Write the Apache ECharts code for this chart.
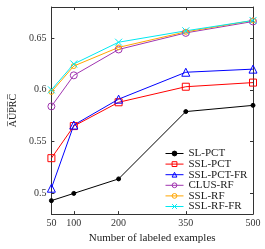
<!DOCTYPE html>
<html><head><meta charset="utf-8">
<script src="https://cdn.jsdelivr.net/npm/echarts@6/dist/echarts.min.js"></script>
<style>html,body{margin:0;padding:0;background:#fff}#c{width:265px;height:249px}</style>
</head><body><div id="c"></div>
<script>
const xValues = [50, 100, 200, 350, 500];
const xTicks = [50, 100, 200, 350, 500];
const yTicks = [0.5, 0.55, 0.6, 0.65];
const seriesNames = ['SL-PCT', 'SSL-PCT', 'SSL-PCT-FR', 'CLUS-RF', 'SSL-RF', 'SSL-RF-FR'];
const slPct     = [0.493, 0.500, 0.514, 0.579, 0.585];
const sslPct    = [0.534, 0.565, 0.588, 0.603, 0.607];
const sslPctFr  = [0.505, 0.566, 0.591, 0.617, 0.620];
const clusRf    = [0.584, 0.614, 0.639, 0.655, 0.666];
const sslRf     = [0.598, 0.623, 0.641, 0.656, 0.667];
const sslRfFr   = [0.600, 0.625, 0.646, 0.657, 0.667];

const FONT = 'Liberation Serif';
const AX = '#333';
const styles = [
  {data: slPct, color: '#000000', symbol: 'circle', size: 4, filled: true},
  {data: sslPct, color: '#ff0000', symbol: 'rect', size: 7, filled: false},
  {data: sslPctFr, color: '#0000ff', symbol: 'triangle', size: 8, filled: false},
  {data: clusRf, color: '#a035b0', symbol: 'circle', size: 7, filled: false},
  {data: sslRf, color: '#ffa500', symbol: 'circle', size: 5, filled: false},
  {data: sslRfFr, color: '#00e8f0', symbol: 'path://M0,0L10,10M10,0L0,10', size: 7, filled: false}
];
const fillOf = s => s.filled ? s.color : 'rgba(255,255,255,0)';
const series = styles.map((s, i) => ({
  name: seriesNames[i],
  type: 'line',
  data: xValues.map((x, j) => [x, s.data[j]]),
  symbol: s.symbol,
  symbolSize: s.size,
  showAllSymbol: true,
  lineStyle: {color: s.color, width: 1},
  itemStyle: {color: fillOf(s), borderColor: s.color, borderWidth: 1},
  emphasis: {disabled: true},
  animation: false
}));
const legendData = styles.map((s, i) => ({
  name: seriesNames[i],
  itemStyle: {color: fillOf(s), borderColor: s.color, borderWidth: 1},
  lineStyle: {color: s.color, width: 1}
}));

const axisLine = {show: true, lineStyle: {color: AX, width: 1}};
const tickStyle = {show: true, inside: true, length: 3, lineStyle: {color: AX, width: 1}};

const chart = echarts.init(document.getElementById('c'));
chart.setOption({
  animation: false,
  grid: {left: 37, right: 12, top: 7, bottom: 26, containLabel: false},
  legend: {
    orient: 'vertical', left: 165, top: 148,
    itemWidth: 18, itemHeight: 6, itemGap: -0.4, itemTextGap: 5,
    textStyle: {fontFamily: FONT, fontSize: 11, lineHeight: 10, color: '#222', padding: 0},
    padding: 0,
    data: legendData
  },
  xAxis: [{
    type: 'value', min: 50, max: 500,
    axisLine: axisLine,
    axisTick: Object.assign({customValues: xTicks}, tickStyle),
    splitLine: {show: false},
    axisLabel: {customValues: xTicks, fontFamily: FONT, fontSize: 10, color: '#333', margin: 4},
    name: 'Number of labeled examples', nameLocation: 'middle', nameGap: 13,
    nameTextStyle: {fontFamily: FONT, fontSize: 11, color: '#222'}
  }, {
    type: 'value', min: 50, max: 500, position: 'top',
    axisLine: axisLine,
    axisTick: Object.assign({customValues: xTicks}, tickStyle),
    splitLine: {show: false}, axisLabel: {show: false}
  }],
  yAxis: [{
    type: 'value', min: 0.48, max: 0.68,
    axisLine: axisLine,
    axisTick: Object.assign({customValues: yTicks}, tickStyle),
    splitLine: {show: false},
    axisLabel: {customValues: yTicks, fontFamily: FONT, fontSize: 10, color: '#333', margin: 5,
      formatter: v => String(Math.round(v * 100) / 100)},
    name: 'A\u0305U\u0305P\u0305R\u0305C\u0305', nameLocation: 'middle', nameGap: 30, nameRotate: 90,
    nameTextStyle: {fontFamily: FONT, fontSize: 10, color: '#222'}
  }, {
    type: 'value', min: 0.48, max: 0.68, position: 'right',
    axisLine: axisLine,
    axisTick: Object.assign({customValues: yTicks}, tickStyle),
    splitLine: {show: false}, axisLabel: {show: false}
  }],
  series: series
});
</script>
</body></html>
